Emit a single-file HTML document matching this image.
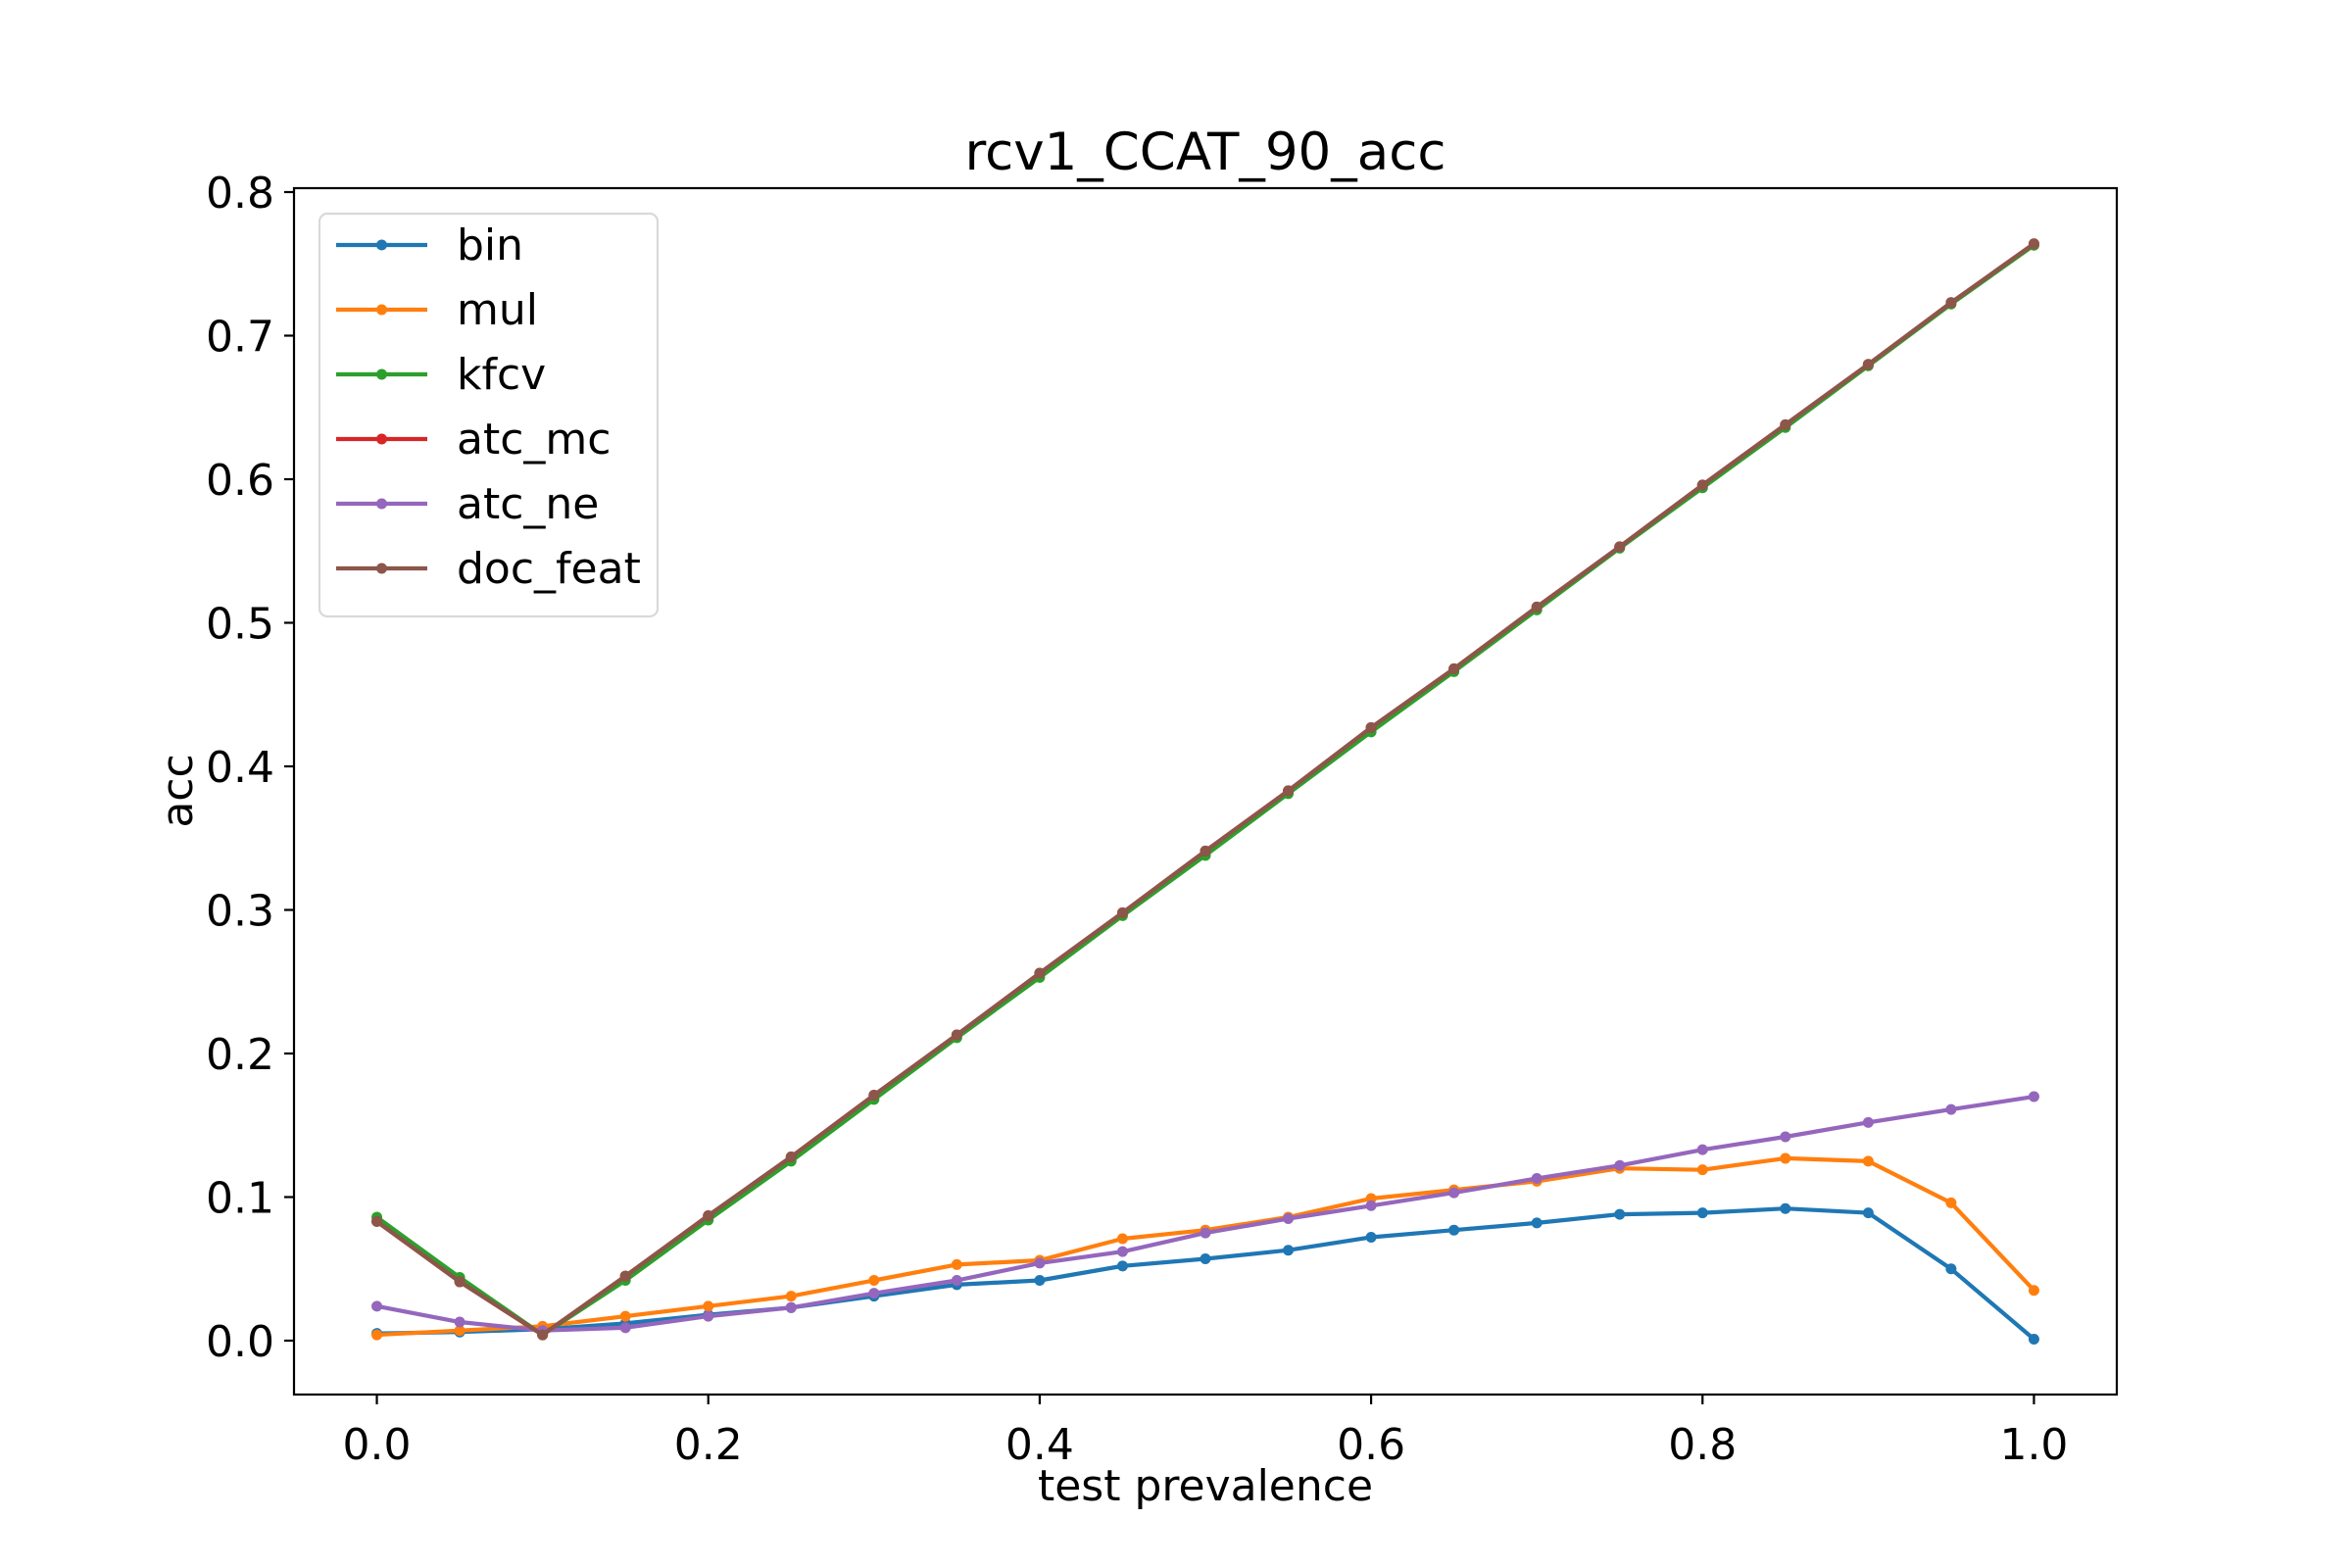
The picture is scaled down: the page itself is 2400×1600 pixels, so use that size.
<!DOCTYPE html>
<html><head><meta charset="utf-8"><style>
html,body{margin:0;padding:0;background:#fff;}
svg{display:block;font-family:"DejaVu Sans","Liberation Sans",sans-serif;}
</style></head><body>
<svg id="chart" width="2400" height="1600" viewBox="0 0 2400 1600">
<rect width="2400" height="1600" fill="#fff"/>
<g id="plot"></g>
</svg>
<script>
const prevalence = [0,0.05,0.1,0.15,0.2,0.25,0.3,0.35,0.4,0.45,0.5,0.55,0.6,0.65,0.7,0.75,0.8,0.85,0.9,0.95,1.0];
const binVals = [0.005,0.006,0.008,0.012,0.018,0.023,0.031,0.039,0.042,0.052,0.057,0.063,0.072,0.077,0.082,0.088,0.089,0.092,0.089,0.050,0.001];
const mulVals = [0.004,0.007,0.010,0.017,0.024,0.031,0.042,0.053,0.056,0.071,0.077,0.086,0.099,0.105,0.111,0.120,0.119,0.127,0.125,0.096,0.035];
const kfcvVals = [0.086,0.044,0.004,0.042,0.084,0.125,0.168,0.211,0.253,0.296,0.338,0.381,0.424,0.466,0.509,0.552,0.594,0.636,0.679,0.722,0.763];
const atcMcVals = [0.083,0.041,0.004,0.045,0.087,0.128,0.171,0.213,0.256,0.298,0.341,0.383,0.427,0.468,0.511,0.553,0.596,0.638,0.680,0.723,0.764];
const atcNeVals = [0.024,0.013,0.007,0.009,0.017,0.023,0.033,0.042,0.054,0.062,0.075,0.085,0.094,0.103,0.113,0.122,0.133,0.142,0.152,0.161,0.170];
const docFeatVals = [0.083,0.041,0.004,0.045,0.087,0.128,0.171,0.213,0.256,0.298,0.341,0.383,0.427,0.468,0.511,0.553,0.596,0.638,0.680,0.723,0.764];
const seriesNames = ["bin","mul","kfcv","atc_mc","atc_ne","doc_feat"];
const xTicks = ["0.0","0.2","0.4","0.6","0.8","1.0"];
const yTicks = ["0.0","0.1","0.2","0.3","0.4","0.5","0.6","0.7","0.8"];

const seriesVals = [binVals,mulVals,kfcvVals,atcMcVals,atcNeVals,docFeatVals];
const colors = ["#1f77b4","#ff7f0e","#2ca02c","#d62728","#9467bd","#8c564b"];
const AX = {l:300,r:2160,t:192,b:1423};
const xmin=-0.05,xmax=1.05;
function X(v){return AX.l+(v-xmin)/(xmax-xmin)*(AX.r-AX.l);}
function Y(v){return 1368-v*1465;}
const NS="http://www.w3.org/2000/svg";
const g=document.getElementById('plot');
function el(tag,attrs,parent){const e=document.createElementNS(NS,tag);for(const k in attrs)e.setAttribute(k,attrs[k]);(parent||g).appendChild(e);return e;}

seriesVals.forEach((vals,i)=>{
  const sg=el('g',{});
  
  
  const pts=vals.map((v,j)=>X(prevalence[j]).toFixed(1)+','+Y(v).toFixed(1)).join(' ');
  const pl=el('polyline',{points:pts,fill:'none',stroke:colors[i],'stroke-width':4.2,'stroke-linejoin':'round','stroke-linecap':'square'},sg);
  
  
  vals.forEach((v,j)=>{
    const c=el('circle',{cx:X(prevalence[j]),cy:Y(v),r:5.5,fill:colors[i]},sg);
    
    
  });
});

const frame=el('rect',{x:AX.l,y:AX.t,width:AX.r-AX.l,height:AX.b-AX.t,fill:'none',stroke:'#000','stroke-width':2.2});



xTicks.forEach(t=>{
  const x=X(parseFloat(t));
  const tk=el('line',{x1:x,x2:x,y1:AX.b,y2:AX.b+10,stroke:'#000','stroke-width':2.2});
  
  
  const tx=el('text',{x:x,y:1489,'font-size':44,'text-anchor':'middle',fill:'#000'});
  tx.textContent=t;
  
  
});
yTicks.forEach(t=>{
  const y=Y(parseFloat(t));
  const tk=el('line',{x1:AX.l-10,x2:AX.l,y1:y,y2:y,stroke:'#000','stroke-width':2.2});
  
  
  const tx=el('text',{x:280,y:y+16,'font-size':44,'text-anchor':'end',fill:'#000'});
  tx.textContent=t;
  
  
});

const title=el('text',{x:1230,y:173,'font-size':53,'text-anchor':'middle',fill:'#000'});
title.textContent='rcv1_CCAT_90_acc';


const xl=el('text',{x:1230,y:1531,'font-size':44,'text-anchor':'middle',fill:'#000'});
xl.textContent='test prevalence';


const yl=el('text',{x:0,y:0,'font-size':44,'text-anchor':'middle',fill:'#000',transform:'translate(196,807) rotate(-90)'});
yl.textContent='acc';



const lg=el('g',{});


el('rect',{x:326,y:218,width:345,height:411,rx:8,fill:'#fff','fill-opacity':0.8,stroke:'#d9d9d9','stroke-width':2.2},lg);
seriesNames.forEach((n,i)=>{
  const y=250+i*66;
  const e=el('g',{},lg);
  
  
  el('line',{x1:343,x2:436,y1:y,y2:y,stroke:colors[i],'stroke-width':4.2},e);
  el('circle',{cx:389.5,cy:y,r:5.5,fill:colors[i]},e);
  const t=el('text',{x:466,y:y+15,'font-size':44,fill:'#000'},e);
  t.textContent=n;
});
</script>
</body></html>
